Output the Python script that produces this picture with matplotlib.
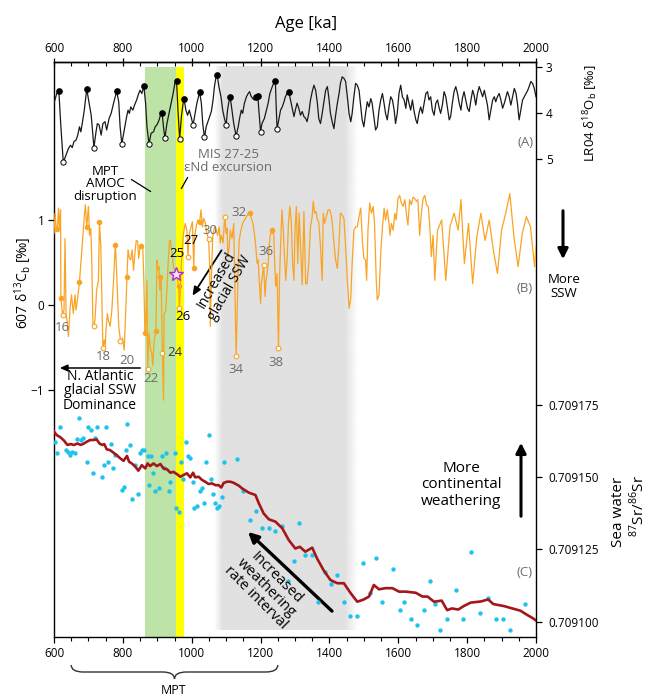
import numpy as np
import matplotlib
matplotlib.use('Agg')
import matplotlib.pyplot as plt
import matplotlib.transforms as mtransforms
from matplotlib.path import Path
from matplotlib.patches import PathPatch

plt.rcParams['font.family'] = ['Open Sans', 'DejaVu Sans']
plt.rcParams['mathtext.fontset'] = 'custom'
plt.rcParams['mathtext.rm'] = 'Open Sans'
plt.rcParams['axes.linewidth'] = 1.0

# ---------------- data ----------------
# (A) LR04 benthic d18O
lr04_age = [600, 608, 614, 620, 627, 635, 642, 648, 653, 658, 664, 669, 674, 678, 682, 688, 695, 702, 708, 712,
            716, 722, 726, 731, 737, 742, 748, 753, 760, 766, 773, 782, 788, 792, 797, 804, 810, 815, 819, 823,
            829, 834, 840, 846, 850, 855, 861, 866, 870, 876, 882, 889, 894, 899, 905, 909, 914, 918, 922, 928,
            934, 940, 946, 951, 956, 960, 965, 970, 975, 978, 983, 988, 993, 998, 1004, 1010, 1015, 1023, 1028, 1032,
            1037, 1042, 1047, 1052, 1057, 1062, 1066, 1070, 1074, 1079, 1085, 1090, 1095, 1100, 1104, 1108, 1112, 1117, 1122, 1129,
            1135, 1139, 1144, 1148, 1153, 1159, 1164, 1168, 1172, 1177, 1182, 1187, 1192, 1195, 1200, 1204, 1211, 1217, 1222, 1227,
            1234, 1238, 1243, 1245, 1248, 1253, 1258, 1263, 1268, 1272, 1277, 1282, 1287, 1292, 1297, 1301, 1306, 1311, 1316, 1321,
            1326, 1331, 1335, 1340, 1345, 1350, 1355, 1360, 1365, 1369, 1374, 1379, 1384, 1389, 1394, 1398, 1403, 1408, 1413, 1418,
            1423, 1428, 1432, 1437, 1442, 1447, 1452, 1457, 1462, 1466, 1471, 1476, 1481, 1486, 1490, 1495, 1500, 1505, 1510, 1515,
            1520, 1524, 1529, 1534, 1539, 1544, 1549, 1554, 1558, 1563, 1568, 1573, 1578, 1583, 1588, 1592, 1597, 1602, 1607, 1612,
            1617, 1622, 1626, 1631, 1636, 1641, 1646, 1651, 1655, 1660, 1665, 1670, 1675, 1680, 1685, 1689, 1694, 1699, 1704, 1709,
            1714, 1719, 1723, 1728, 1733, 1738, 1743, 1748, 1752, 1757, 1762, 1767, 1772, 1777, 1782, 1786, 1791, 1796, 1801, 1806,
            1811, 1816, 1820, 1825, 1830, 1835, 1840, 1845, 1850, 1854, 1859, 1864, 1869, 1874, 1879, 1883, 1888, 1893, 1898, 1903,
            1908, 1913, 1917, 1922, 1927, 1932, 1937, 1942, 1946, 1951, 1956, 1961, 1966, 1971, 1976, 1980, 1985, 1990, 1995, 2000]
lr04_d18o = [3.79, 3.58, 3.52, 4.30, 5.07, 4.91, 4.77, 4.70, 4.75, 4.62, 4.59, 4.48, 4.30, 4.41, 4.23, 3.94, 3.48, 3.79, 4.05, 4.41,
             4.75, 4.41, 4.23, 4.26, 4.48, 4.23, 4.19, 4.37, 4.12, 4.01, 3.79, 3.53, 3.76, 4.30, 4.67, 4.37, 4.12, 3.94, 4.01, 3.87,
             3.94, 3.83, 3.72, 3.58, 3.51, 3.58, 3.42, 3.79, 4.30, 4.67, 4.44, 4.41, 4.30, 4.26, 4.16, 4.05, 4.01, 4.30, 4.55, 4.23,
             4.01, 3.79, 3.58, 3.36, 3.31, 3.94, 4.57, 4.08, 3.79, 3.70, 3.94, 4.05, 3.94, 4.08, 4.26, 4.01, 3.79, 3.55, 3.79, 4.23,
             4.53, 4.30, 4.19, 4.08, 3.97, 3.72, 3.43, 3.25, 3.19, 3.43, 3.65, 3.94, 4.12, 4.26, 3.94, 3.76, 3.66, 3.94, 4.23, 4.50,
             4.30, 4.12, 3.94, 4.01, 3.79, 3.65, 3.58, 3.54, 3.63, 3.69, 3.72, 3.66, 3.63, 3.94, 4.41, 4.23, 4.12, 3.94, 3.79, 3.58,
             3.43, 3.36, 3.31, 3.79, 4.35, 4.15, 3.94, 3.87, 3.76, 3.65, 3.58, 3.54, 3.72, 3.90, 4.08, 3.94, 3.79, 3.90, 4.05, 3.97,
             4.08, 4.12, 4.19, 4.01, 3.72, 3.54, 3.40, 3.51, 3.79, 4.12, 4.23, 4.01, 3.76, 3.51, 3.43, 3.65, 4.01, 4.19, 4.34, 4.05,
             3.79, 3.58, 3.36, 3.22, 3.25, 3.32, 3.65, 4.01, 4.19, 4.01, 3.65, 3.36, 3.40, 3.51, 3.79, 4.15, 4.30, 4.01, 3.76, 3.87,
             3.69, 3.79, 4.08, 4.37, 4.30, 3.94, 3.72, 3.58, 3.76, 4.01, 4.15, 3.87, 3.65, 3.72, 3.94, 4.23, 4.01, 3.58, 3.40, 3.65,
             3.72, 3.90, 3.61, 3.79, 3.94, 3.72, 3.97, 4.15, 4.23, 4.01, 3.87, 4.01, 3.79, 3.58, 3.54, 3.72, 3.65, 3.94, 4.05, 3.79,
             3.72, 3.90, 4.01, 3.83, 3.54, 3.65, 3.90, 4.15, 4.08, 3.79, 3.54, 3.43, 3.58, 3.79, 3.94, 3.69, 3.54, 3.72, 3.90, 3.97,
             3.72, 3.51, 3.61, 3.83, 3.58, 3.43, 3.54, 3.65, 3.51, 3.65, 3.83, 4.15, 3.94, 3.72, 3.65, 3.76, 3.65, 3.58, 3.72, 3.90,
             3.79, 3.65, 3.54, 3.65, 3.83, 3.65, 3.47, 3.58, 3.79, 4.15, 3.94, 3.72, 3.65, 3.58, 3.51, 3.43, 3.32, 3.36, 3.47, 3.65]
lr04_int_age = [614, 695, 782, 861, 914, 956, 978, 1023, 1074, 1112, 1187, 1192, 1243, 1282]
lr04_int_val = [3.52, 3.48, 3.53, 3.42, 4.01, 3.31, 3.70, 3.55, 3.19, 3.66, 3.66, 3.63, 3.31, 3.54]
lr04_gla_age = [627, 716, 797, 876, 922, 965, 1004, 1037, 1100, 1129, 1200, 1248]
lr04_gla_val = [5.07, 4.75, 4.67, 4.67, 4.55, 4.57, 4.26, 4.53, 4.26, 4.50, 4.41, 4.35]

# (B) Site 607 benthic d13C
c13_age = [600, 603, 606, 610, 613, 616, 619, 620, 625, 629, 632, 635, 639, 642, 647, 651, 656, 661, 664, 668,
           674, 678, 683, 688, 691, 695, 700, 703, 707, 710, 713, 716, 719, 724, 729, 732, 736, 739, 742, 746,
           749, 751, 755, 758, 763, 768, 773, 778, 780, 784, 788, 793, 799, 804, 808, 812, 815, 819, 823, 827,
           831, 835, 839, 843, 846, 850, 854, 858, 861, 864, 866, 870, 872, 876, 879, 884, 887, 891, 896, 899,
           902, 905, 907, 909, 911, 915, 918, 920, 924, 928, 932, 936, 938, 943, 947, 955, 959, 962, 964, 967,
           970, 973, 976, 981, 986, 989, 993, 998, 1002, 1006, 1008, 1013, 1018, 1023, 1027, 1031, 1035, 1040, 1044, 1049,
           1052, 1054, 1057, 1061, 1066, 1071, 1075, 1080, 1083, 1086, 1091, 1096, 1100, 1103, 1105, 1109, 1112, 1117, 1122, 1125,
           1129, 1132, 1135, 1138, 1143, 1148, 1153, 1159, 1165, 1169, 1173, 1178, 1182, 1186, 1190, 1193, 1196, 1200, 1202, 1205,
           1209, 1213, 1216, 1219, 1222, 1225, 1228, 1232, 1234, 1238, 1241, 1244, 1248, 1252, 1255, 1258, 1262, 1266, 1269, 1273,
           1277, 1281, 1285, 1289, 1293, 1297, 1300, 1304, 1308, 1312, 1316, 1321, 1326, 1331, 1335, 1340, 1345, 1350, 1353, 1357,
           1361, 1365, 1369, 1374, 1379, 1382, 1386, 1391, 1396, 1401, 1406, 1410, 1414, 1418, 1423, 1428, 1432, 1437, 1442, 1447,
           1452, 1457, 1462, 1466, 1471, 1476, 1481, 1486, 1491, 1496, 1500, 1505, 1508, 1512, 1517, 1522, 1527, 1531, 1536, 1539,
           1544, 1549, 1554, 1559, 1563, 1568, 1573, 1576, 1580, 1585, 1590, 1594, 1599, 1604, 1609, 1614, 1619, 1624, 1628, 1633,
           1638, 1643, 1648, 1653, 1657, 1662, 1667, 1672, 1677, 1682, 1687, 1691, 1696, 1701, 1706, 1714, 1726, 1738, 1750, 1762,
           1774, 1782, 1792, 1804, 1816, 1828, 1840, 1852, 1864, 1876, 1888, 1900, 1912, 1924, 1936, 1948, 1960, 1972, 1984, 1996,
           2000]
c13_val = [0.84, 1.08, 0.92, 0.90, 1.14, 0.88, 1.12, 0.08, -0.12, -0.06, 0.78, -0.10, -0.22, -0.37, -0.02, 0.12, -0.10, 0.12, -0.06, 0.06,
           0.27, 0.49, 0.76, 1.04, 1.18, 0.92, 1.16, 0.82, 0.90, 0.47, -0.22, -0.25, -0.18, 0.18, 0.29, 0.98, 0.69, 0.12, -0.51, -0.41,
           -0.49, -0.29, -0.10, -0.18, -0.25, -0.06, 0.29, 0.71, 0.57, 0.18, -0.25, -0.42, -0.39, -0.53, -0.10, 0.33, 0.65, 0.55, 0.53, 0.65,
           0.41, 0.61, 0.76, 0.75, 0.55, 0.67, 0.69, 0.67, 0.29, -0.33, -0.29, 0.29, -0.75, -0.33, -0.49, -0.57, -0.71, -0.41, -0.31, 0.53,
           0.41, 0.45, 0.18, 0.33, 0.33, -0.57, -1.12, -0.10, -0.08, 0.18, 0.53, 0.76, 0.76, 0.61, 0.45, 0.37, 0.29, 0.22, -0.03, 0.18,
           0.49, 0.69, 0.84, 0.96, 0.88, 0.57, 0.84, 0.92, 0.98, 0.43, 0.80, 0.92, 1.00, 0.98, 1.12, 0.92, 1.02, 0.96, 0.84, 0.78,
           0.49, -0.25, 0.29, 0.80, 0.92, 0.88, 0.82, 0.92, 0.73, 0.82, 0.73, 1.04, 0.84, 0.90, 0.57, 0.69, 0.88, 0.78, 0.96, 0.29,
           -0.60, -0.10, 0.49, 0.76, 0.88, 0.96, 1.00, 1.04, 1.08, 1.08, 1.02, 0.96, 0.84, 0.69, 0.49, 0.53, 0.29, 0.02, 0.25, 0.33,
           0.47, 0.10, 0.29, 0.37, 0.49, 0.69, 0.82, 0.88, 0.84, 0.88, 0.49, 0.22, 0.37, -0.51, 0.29, 0.69, 1.12, 0.88, 0.61, 0.29,
           0.53, 0.96, 1.16, 1.00, 0.49, 0.29, 0.88, 1.16, 0.49, 1.08, 0.69, 0.24, 1.10, 0.25, 0.25, 0.49, 0.92, 1.04, 1.22, 1.08,
           1.10, 1.00, 0.98, 0.69, 0.29, 1.08, 0.96, 1.04, 1.12, 1.12, 1.04, 0.88, 0.69, 0.53, 0.43, 0.73, 1.08, 1.06, 1.02, 0.69,
           0.29, -0.04, 0.08, 0.49, 0.88, 0.92, 0.92, 1.04, 1.14, 0.73, 0.55, 0.53, 0.29, 0.88, 1.20, 1.08, 1.16, 0.96, 0.29, 0.06,
           0.12, 0.61, 0.92, 1.14, 1.00, 1.12, 0.96, 0.82, 0.96, 0.88, 1.08, 1.00, 1.25, 1.29, 1.20, 1.16, 1.24, 1.06, 0.94, 1.24,
           1.18, 1.27, 1.25, 1.22, 1.24, 0.82, 1.08, 1.25, 1.29, 1.18, 1.16, 0.96, 0.57, 0.82, 0.29, 0.88, 1.00, 0.29, 0.92, 1.08,
           0.88, 1.24, 0.49, 0.96, 0.25, 0.80, 1.08, 0.76, 1.00, 0.65, 0.37, 0.88, 1.08, 1.31, 0.80, 0.45, 0.84, 1.04, 0.92, 0.45,
           0.69]
c13_int_age = [610, 620, 674, 695, 732, 778, 812, 854, 864, 896, 909, 962, 1006, 1023, 1169, 1232]
c13_int_val = [0.90, 0.08, 0.27, 0.92, 0.98, 0.71, 0.33, 0.69, -0.33, -0.31, 0.33, 0.22, 0.43, 0.98, 1.08, 0.88]
c13_gla_age = [625, 716, 742, 793, 872, 915, 964, 989, 1049, 1096, 1129, 1209, 1252]
c13_gla_val = [-0.12, -0.25, -0.51, -0.42, -0.75, -0.57, -0.03, 0.57, 0.78, 1.04, -0.60, 0.47, -0.51]
star_age, star_val = 955, 0.37

# (C) seawater 87Sr/86Sr
sr_age = [603, 610, 618, 635, 640, 647, 653, 661, 668, 674, 678, 685, 695, 700, 707, 712, 719, 726, 739, 746,
          751, 758, 765, 771, 778, 797, 802, 809, 813, 821, 828, 836, 845, 850, 855, 862, 872, 876, 882, 889,
          894, 906, 914, 920, 926, 934, 938, 951, 955, 963, 970, 976, 983, 988, 994, 1003, 1008, 1015, 1023, 1029,
          1035, 1042, 1049, 1056, 1062, 1068, 1073, 1080, 1088, 1095, 1131, 1148, 1168, 1187, 1204, 1224, 1243, 1263, 1280, 1298,
          1311, 1330, 1348, 1367, 1387, 1405, 1423, 1442, 1461, 1479, 1498, 1517, 1536, 1554, 1586, 1604, 1617, 1636, 1655, 1675,
          1691, 1708, 1722, 1742, 1768, 1789, 1811, 1837, 1861, 1885, 1903, 1925, 1967]
sr_val = [0.7091622, 0.7091584, 0.7091674, 0.7091593, 0.7091588, 0.7091576, 0.7091588, 0.7091582, 0.7091631, 0.7091703,
          0.7091628, 0.7091634, 0.7091553, 0.7091674, 0.7091662, 0.7091513, 0.7091634, 0.7091674, 0.7091501, 0.7091541,
          0.7091674, 0.7091553, 0.7091614, 0.7091530, 0.7091576, 0.7091455, 0.7091464, 0.7091593, 0.7091683, 0.7091611,
          0.7091423, 0.7091541, 0.7091441, 0.7091584, 0.7091593, 0.7091593, 0.7091573, 0.7091472, 0.7091573, 0.7091513,
          0.7091453, 0.7091461, 0.7091573, 0.7091530, 0.7091582, 0.7091453, 0.7091484, 0.7091584, 0.7091392, 0.7091380,
          0.7091553, 0.7091492, 0.7091622, 0.7091573, 0.7091565, 0.7091484, 0.7091392, 0.7091400, 0.7091453, 0.7091461,
          0.7091411, 0.7091553, 0.7091645, 0.7091492, 0.7091441, 0.7091411, 0.7091392, 0.7091400, 0.7091432, 0.7091553,
          0.7091563, 0.7091453, 0.7091351, 0.7091383, 0.7091323, 0.7091323, 0.7091313, 0.7091331, 0.7091141, 0.7091211,
          0.7091342, 0.7091230, 0.7091230, 0.7091069, 0.7091173, 0.7091130, 0.7091161, 0.7091069, 0.7091020, 0.7091020,
          0.7091202, 0.7091100, 0.7091221, 0.7091069, 0.7091181, 0.7091040, 0.7091069, 0.7091009, 0.7090989, 0.7091040,
          0.7091141, 0.7091061, 0.7090971, 0.7091009, 0.7091110, 0.7091009, 0.7091241, 0.7091031, 0.7091081, 0.7091009,
          0.7091009, 0.7090971, 0.7091061]
sr_fit_age = [600, 608, 619, 629, 639, 648, 658, 668, 678, 687, 695, 705, 714, 724, 732, 740, 746, 753, 763, 773,
              782, 792, 802, 812, 818, 826, 836, 845, 855, 865, 872, 879, 889, 899, 909, 918, 928, 938, 947, 957,
              967, 976, 986, 996, 1004, 1010, 1020, 1030, 1039, 1049, 1059, 1069, 1078, 1086, 1093, 1103, 1112, 1122, 1137, 1146,
              1166, 1185, 1195, 1209, 1224, 1243, 1263, 1282, 1301, 1314, 1330, 1350, 1364, 1384, 1403, 1423, 1442, 1462, 1481, 1500,
              1515, 1529, 1544, 1563, 1583, 1602, 1622, 1651, 1670, 1685, 1704, 1726, 1742, 1756, 1774, 1790, 1810, 1840, 1861, 1876,
              1907, 1931, 1955, 1975, 1991, 2000]
sr_fit_val = [0.7091657, 0.7091645, 0.7091637, 0.7091626, 0.7091611, 0.7091614, 0.7091611, 0.7091616, 0.7091611, 0.7091616,
              0.7091622, 0.7091628, 0.7091628, 0.7091630, 0.7091616, 0.7091611, 0.7091614, 0.7091596, 0.7091593, 0.7091584,
              0.7091576, 0.7091565, 0.7091556, 0.7091573, 0.7091553, 0.7091547, 0.7091536, 0.7091522, 0.7091541, 0.7091530,
              0.7091547, 0.7091538, 0.7091547, 0.7091538, 0.7091545, 0.7091530, 0.7091527, 0.7091515, 0.7091518, 0.7091510,
              0.7091501, 0.7091507, 0.7091513, 0.7091499, 0.7091515, 0.7091499, 0.7091501, 0.7091490, 0.7091484, 0.7091476,
              0.7091478, 0.7091472, 0.7091472, 0.7091464, 0.7091480, 0.7091484, 0.7091484, 0.7091480, 0.7091470, 0.7091461,
              0.7091446, 0.7091438, 0.7091409, 0.7091374, 0.7091354, 0.7091346, 0.7091323, 0.7091282, 0.7091253, 0.7091259,
              0.7091242, 0.7091256, 0.7091219, 0.7091176, 0.7091144, 0.7091133, 0.7091133, 0.7091098, 0.7091069, 0.7091077,
              0.7091087, 0.7091127, 0.7091112, 0.7091116, 0.7091116, 0.7091104, 0.7091104, 0.7091100, 0.7091087, 0.7091087,
              0.7091069, 0.7091073, 0.7091040, 0.7091046, 0.7091042, 0.7091054, 0.7091066, 0.7091070, 0.7091077, 0.7091061,
              0.7091054, 0.7091046, 0.7091038, 0.7091023, 0.7091012, 0.7091004]

# shaded intervals (ka)
green_band = (864, 954)
yellow_band = (954, 979)
gray_band = (1090, 1445)
mpt_span = (650, 1250)

stage_labels = ['16', '18', '20', '22', '24', '25', '26', '27', '30', '32', '34', '36', '38']

# ---------------- figure ----------------
W, H = 649, 698
fig = plt.figure(figsize=(W / 100, H / 100), dpi=100)


def fx(px):
    return px / W


def fy(py):
    return 1 - py / H


ax = fig.add_axes([fx(54), fy(637), fx(536) - fx(54), fy(62) - fy(637)])
ax.set_xlim(600, 2000)
ax.set_ylim(0, 1)
ax.set_yticks([])
ax.set_xticks(np.arange(600, 2001, 200))
ax.set_xticks(np.arange(600, 2001, 50), minor=True)
ax.tick_params(axis='x', which='major', direction='out', length=4.5, width=0.9, labelsize=8.5, pad=3)
ax.tick_params(axis='x', which='minor', direction='out', length=3, width=0.8)

top = ax.secondary_xaxis('top')
top.set_xticks(np.arange(600, 2001, 200))
top.set_xticks(np.arange(600, 2001, 50), minor=True)
top.tick_params(axis='x', which='major', direction='inout', length=6, width=0.9, labelsize=8.5, pad=2)
top.tick_params(axis='x', which='minor', direction='in', length=3, width=0.8)

# shaded bands
ax.axvspan(*green_band, ymin=0, ymax=0.992, color='#bde4a6', lw=0, zorder=0)
ax.axvspan(*yellow_band, ymin=0, ymax=0.992, color='#ffff00', lw=0, zorder=0)
gx = np.linspace(gray_band[0] - 25, gray_band[1] + 38, 400)
ga = np.clip(np.minimum((gx - (gray_band[0] - 25)) / 25, ((gray_band[1] + 38) - gx) / 38), 0, 1)
grad = np.zeros((1, gx.size, 4))
grad[..., :3] = 225 / 255
grad[0, :, 3] = ga
ax.imshow(grad, extent=[gx[0], gx[-1], 0.012, 0.992], aspect='auto', zorder=0, interpolation='bilinear')
ax.set_xlim(600, 2000)
ax.set_ylim(0, 1)

# (A) LR04
axA = ax.twinx()
axA.set_ylim(15.344, 2.898)
axA.set_yticks([3, 4, 5])
axA.tick_params(axis='y', direction='out', length=4, width=0.9, labelsize=8.5, pad=3)
axA.plot(lr04_age, lr04_d18o, color='#1a1a1a', lw=0.9)
axA.plot(lr04_int_age, lr04_int_val, 'o', ms=3.8, color='black')
axA.plot(lr04_gla_age, lr04_gla_val, 'o', ms=3.8, mfc='white', mec='black', mew=0.7)

# (B) 607 d13C
orange = '#f9a424'
axB = ax.twinx()
axB.yaxis.tick_left()
axB.set_ylim(-3.906, 2.859)
axB.set_yticks([-1, 0, 1])
axB.tick_params(axis='y', direction='out', length=4, width=0.9, labelsize=8.5, pad=3)
axB.plot(c13_age, c13_val, color=orange, lw=0.9)
axB.plot(c13_int_age, c13_int_val, 'o', ms=3.0, color=orange)
axB.plot(c13_gla_age, c13_gla_val, 'o', ms=3.4, mfc='white', mec=orange, mew=0.8)
axB.plot([star_age], [star_val], '*', ms=10, mfc='#fbe2fb', mec='#b52ad0', mew=1.0)

# (C) Sr isotopes
axC = ax.twinx()
axC.set_ylim(0.70909472, 0.70929345)
axC.set_yticks([0.709100, 0.709125, 0.709150, 0.709175])
axC.yaxis.set_major_formatter(plt.FormatStrFormatter('%.6f'))
axC.tick_params(axis='y', direction='out', length=4, width=0.9, labelsize=8.5, pad=5)
axC.scatter(sr_age, sr_val, s=10, color='#1cc3ee', lw=0, zorder=2)
axC.plot(sr_fit_age, sr_fit_val, color='#a3171b', lw=1.9, zorder=3)

for a in (axA, axB, axC):
    for s in a.spines.values():
        s.set_visible(False)

# ---------------- labels & annotations ----------------
fig.text(fx(306), fy(24), 'Age [ka]', ha='center', va='center', fontsize=12)
fig.text(fx(591), fy(113), r'LR04 δ$^{\mathregular{18}}$O$_{\mathregular{b}}$ [‰]', rotation=90,
         ha='center', va='center', fontsize=9.5)
fig.text(fx(23), fy(283), r'607 δ$^{\mathregular{13}}$C$_{\mathregular{b}}$ [‰]', rotation=90,
         ha='center', va='center', fontsize=10)
fig.text(fx(619), fy(512), 'Sea water', rotation=90, ha='center', va='center', fontsize=11)
fig.text(fx(638), fy(506), r'$^{\mathregular{87}}$Sr/$^{\mathregular{86}}$Sr', rotation=90,
         ha='center', va='center', fontsize=11)

grey = '#6b6b6b'
fig.text(fx(526), fy(143), '(A)', ha='center', va='center', fontsize=9.5, color=grey)
fig.text(fx(525), fy(288), '(B)', ha='center', va='center', fontsize=9.5, color=grey)
fig.text(fx(525), fy(573), '(C)', ha='center', va='center', fontsize=9.5, color=grey)

fig.text(fx(105), fy(184), 'MPT\nAMOC\ndisruption', ha='center', va='center', fontsize=9.5,
         linespacing=0.95)
ax.annotate('', xy=(fx(153), fy(193)), xycoords='figure fraction', xytext=(fx(129), fy(178)),
            textcoords='figure fraction', arrowprops=dict(arrowstyle='-', lw=0.9, color='k'))
fig.text(fx(228), fy(161), 'MIS 27-25\nεNd excursion', ha='center', va='center', fontsize=9.5,
         color=grey, linespacing=0.95)
ax.annotate('', xy=(fx(180), fy(191)), xycoords='figure fraction', xytext=(fx(189), fy(175)),
            textcoords='figure fraction', arrowprops=dict(arrowstyle='-', lw=0.9, color='k'))

stage_pos = [(62, 327), (103, 357), (127, 361), (151, 379), (175, 353), (177, 254), (183, 317),
             (191, 241), (210, 230), (239, 212), (236, 369), (266, 251), (276, 363)]
for lab, (px, py) in zip(stage_labels, stage_pos):
    col = 'black' if lab in ('25', '26', '27') else ('#333333' if lab == '24' else grey)
    fig.text(fx(px), fy(py), lab, ha='center', va='center', fontsize=9.5, color=col)

fig.text(fx(564), fy(286), 'More\nSSW', ha='center', va='center', fontsize=9.5, linespacing=1.1)
ax.annotate('', xy=(fx(563), fy(262)), xycoords='figure fraction', xytext=(fx(563), fy(208)),
            textcoords='figure fraction',
            arrowprops=dict(arrowstyle='-|>,head_length=0.6,head_width=0.3', lw=2.2, color='k'))

fig.text(fx(223), fy(284), 'Increased\nglacial SSW', rotation=60, rotation_mode='anchor',
         ha='center', va='center', fontsize=10, linespacing=1.0)
ax.annotate('', xy=(fx(191), fy(298)), xycoords='figure fraction', xytext=(fx(223), fy(248)),
            textcoords='figure fraction',
            arrowprops=dict(arrowstyle='-|>,head_length=0.5,head_width=0.22', lw=1.3, color='k'))

fig.text(fx(100), fy(391), 'N. Atlantic\nglacial SSW\nDominance', ha='center', va='center',
         fontsize=10, linespacing=0.95)
ax.annotate('', xy=(fx(57), fy(368)), xycoords='figure fraction', xytext=(fx(143), fy(368)),
            textcoords='figure fraction',
            arrowprops=dict(arrowstyle='-|>,head_length=0.45,head_width=0.2', lw=1.1, color='k'))

fig.text(fx(461), fy(485), 'More\ncontinental\nweathering', ha='center', va='center', fontsize=11,
         linespacing=1.1)
ax.annotate('', xy=(fx(521), fy(440)), xycoords='figure fraction', xytext=(fx(521), fy(519)),
            textcoords='figure fraction',
            arrowprops=dict(arrowstyle='-|>,head_length=0.6,head_width=0.3', lw=2.2, color='k'))

fig.text(fx(266), fy(588), 'Increased\nweathering\nrate interval', rotation=-45, rotation_mode='anchor',
         ha='center', va='center', fontsize=10.5, linespacing=0.95)
ax.annotate('', xy=(fx(246), fy(530)), xycoords='figure fraction', xytext=(fx(334), fy(613)),
            textcoords='figure fraction',
            arrowprops=dict(arrowstyle='-|>,head_length=0.6,head_width=0.3', lw=2.4, color='k'))

# MPT brace under the axis
bt = mtransforms.blended_transform_factory(ax.transData, fig.transFigure)
x0, x1 = mpt_span
xm = (x0 + x1) / 2
yt, yb, ytip = fy(665), fy(672), fy(679)
verts = [(x0, yt), (x0, yb), (x0 + 35, yb), (xm - 35, yb), (xm, yb), (xm, ytip),
         (xm, yb), (xm + 35, yb), (x1 - 35, yb), (x1, yb), (x1, yt)]
codes = [Path.MOVETO, Path.CURVE3, Path.CURVE3, Path.LINETO, Path.CURVE3, Path.CURVE3,
         Path.CURVE3, Path.CURVE3, Path.LINETO, Path.CURVE3, Path.CURVE3]
fig.patches.append(PathPatch(Path(verts, codes), transform=bt, fill=False, lw=1.0, ec='#333333'))
fig.text(fx(174), fy(690), 'MPT', ha='center', va='center', fontsize=9)

fig.savefig('out.png', dpi=100)
